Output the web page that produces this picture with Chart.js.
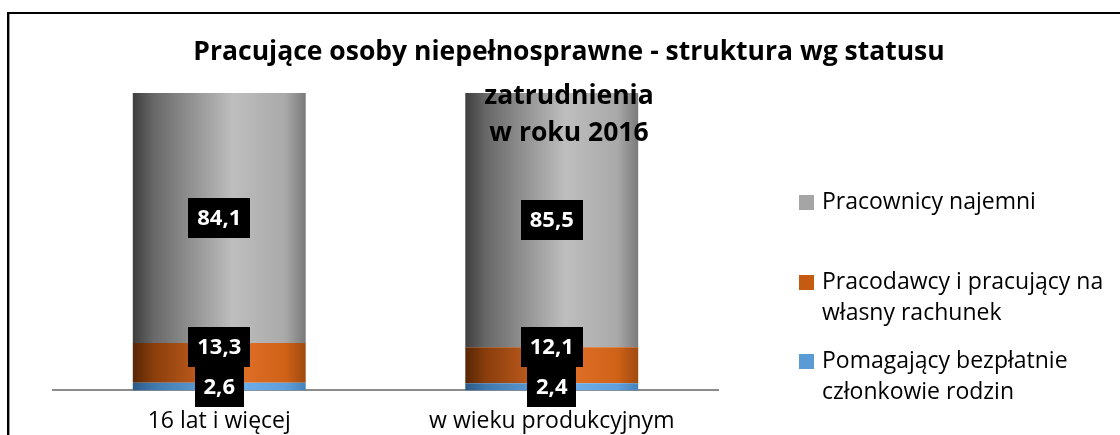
<!DOCTYPE html>
<html>
<head>
<meta charset="utf-8">
<script src="https://cdn.jsdelivr.net/npm/chart.js@4"></script>
<style>
  html, body { margin: 0; padding: 0; background: #fff; }
  #wrap { width: 1120px; height: 435px; position: relative; }
</style>
</head>
<body>
<div id="wrap"><canvas id="chart"></canvas></div>
<script>
const categories = ['16 lat i więcej', 'w wieku produkcyjnym'];
const helpingFamily = [2.6, 2.4];
const employers = [13.3, 12.1];
const employees = [84.1, 85.5];
const seriesNames = ['Pomagający bezpłatnie członkowie rodzin', 'Pracodawcy i pracujący na własny rachunek', 'Pracownicy najemni'];
const titleLines = ['Pracujące osoby niepełnosprawne - struktura wg statusu', 'zatrudnienia', 'w roku 2016'];
// legend text as it wraps in the original, top to bottom
const legendLines = [['Pracownicy najemni'], ['Pracodawcy i pracujący na', 'własny rachunek'], ['Pomagający bezpłatnie', 'członkowie rodzin']];
const legendColors = ['#a5a5a5', '#c55a11', '#5b9bd5'];

const FONT = '"Open Sans", "Liberation Sans", sans-serif';
const BAR_PCT = 0.52;

const greyStops = [[0, '#3e3e3e'], [0.12, '#686868'], [0.58, '#bebebe'], [0.88, '#a9a9a9'], [1, '#7a7a7a']];
const orangeStops = [[0, '#582606'], [0.12, '#8a3e0c'], [0.58, '#e2702a'], [0.88, '#d06218'], [1, '#a04a10']];
const blueStops = [[0, '#2c5a86'], [0.12, '#3f78ad'], [0.58, '#6fb1ec'], [0.88, '#5fa0dc'], [1, '#4682bb']];

function cylinder(stops) {
  return ctx => {
    const chart = ctx.chart;
    const xs = chart.scales.x;
    if (!chart.chartArea || !xs) return stops[2][1];
    const cx = xs.getPixelForValue(ctx.dataIndex);
    const w = xs.width / categories.length * BAR_PCT;
    const g = chart.ctx.createLinearGradient(cx - w / 2, 0, cx + w / 2, 0);
    stops.forEach(([o, c]) => g.addColorStop(o, c));
    return g;
  };
}

const framePlugin = {
  id: 'frame',
  beforeDraw(chart) {
    const c = chart.ctx;
    c.save();
    c.fillStyle = '#fff';
    c.fillRect(0, 0, chart.width, chart.height);
    c.strokeStyle = '#9a9a9a';
    c.lineWidth = 1;
    c.beginPath();
    c.moveTo(9.5, 14); c.lineTo(9.5, chart.height);
    c.stroke();
    c.strokeStyle = '#000';
    c.lineWidth = 2;
    c.beginPath();
    c.moveTo(8, chart.height); c.lineTo(8, 13); c.lineTo(chart.width, 13);
    c.stroke();
    c.restore();
  }
};

const valueLabels = {
  id: 'valueLabels',
  afterDatasetsDraw(chart) {
    const c = chart.ctx;
    c.save();
    c.font = 'bold 22px ' + FONT;
    c.textAlign = 'center';
    c.textBaseline = 'middle';
    const h = 40;
    categories.forEach((cat, i) => {
      let prevTop = Infinity;
      chart.data.datasets.forEach((ds, d) => {
        const el = chart.getDatasetMeta(d).data[i];
        const txt = ds.data[i].toFixed(1).replace('.', ',');
        const w = c.measureText(txt).width + 18;
        let cy = (el.y + el.base) / 2;
        if (cy + h / 2 > prevTop) cy = prevTop - h / 2;
        prevTop = cy - h / 2;
        c.fillStyle = '#000';
        c.fillRect(Math.round(el.x - w / 2), Math.round(cy - h / 2), Math.round(w), h);
        c.fillStyle = '#fff';
        c.fillText(txt, el.x, cy + 1);
      });
    });
    c.restore();
  }
};

const titleAndLegend = {
  id: 'titleAndLegend',
  afterDraw(chart) {
    const c = chart.ctx;
    c.save();
    c.fillStyle = '#000';
    c.textAlign = 'center';
    c.textBaseline = 'middle';
    c.font = 'bold 26.5px ' + FONT;
    const titleY = [52, 96, 133];
    titleLines.forEach((t, k) => c.fillText(t, 569, titleY[k]));

    c.textAlign = 'left';
    c.font = '23px ' + FONT;
    const itemY = [202, 282, 361];
    legendLines.forEach((lines, k) => {
      c.fillStyle = legendColors[k];
      c.fillRect(799, itemY[k] - 7, 15, 15);
      c.fillStyle = '#000';
      lines.forEach((ln, j) => c.fillText(ln, 822, itemY[k] + j * 31));
    });
    c.restore();
  }
};

new Chart(document.getElementById('chart'), {
  type: 'bar',
  data: {
    labels: categories,
    datasets: [
      { label: seriesNames[0], data: helpingFamily, backgroundColor: cylinder(blueStops) },
      { label: seriesNames[1], data: employers, backgroundColor: cylinder(orangeStops) },
      { label: seriesNames[2], data: employees, backgroundColor: cylinder(greyStops) }
    ]
  },
  options: {
    responsive: true,
    maintainAspectRatio: false,
    animation: false,
    layout: { padding: { left: 53, right: 402, top: 93, bottom: -17 } },
    datasets: { bar: { barPercentage: BAR_PCT, categoryPercentage: 1, borderWidth: 0 } },
    plugins: {
      legend: { display: false },
      title: { display: false },
      tooltip: { enabled: false }
    },
    scales: {
      x: {
        stacked: true,
        grid: { display: false, drawTicks: false },
        border: { display: true, color: '#8c8c8c', width: 2 },
        ticks: { color: '#000', font: { family: FONT, size: 23 }, padding: 17 }
      },
      y: {
        stacked: true,
        display: false,
        min: 0,
        max: 100
      }
    }
  },
  plugins: [framePlugin, valueLabels, titleAndLegend]
});
</script>
</body>
</html>
